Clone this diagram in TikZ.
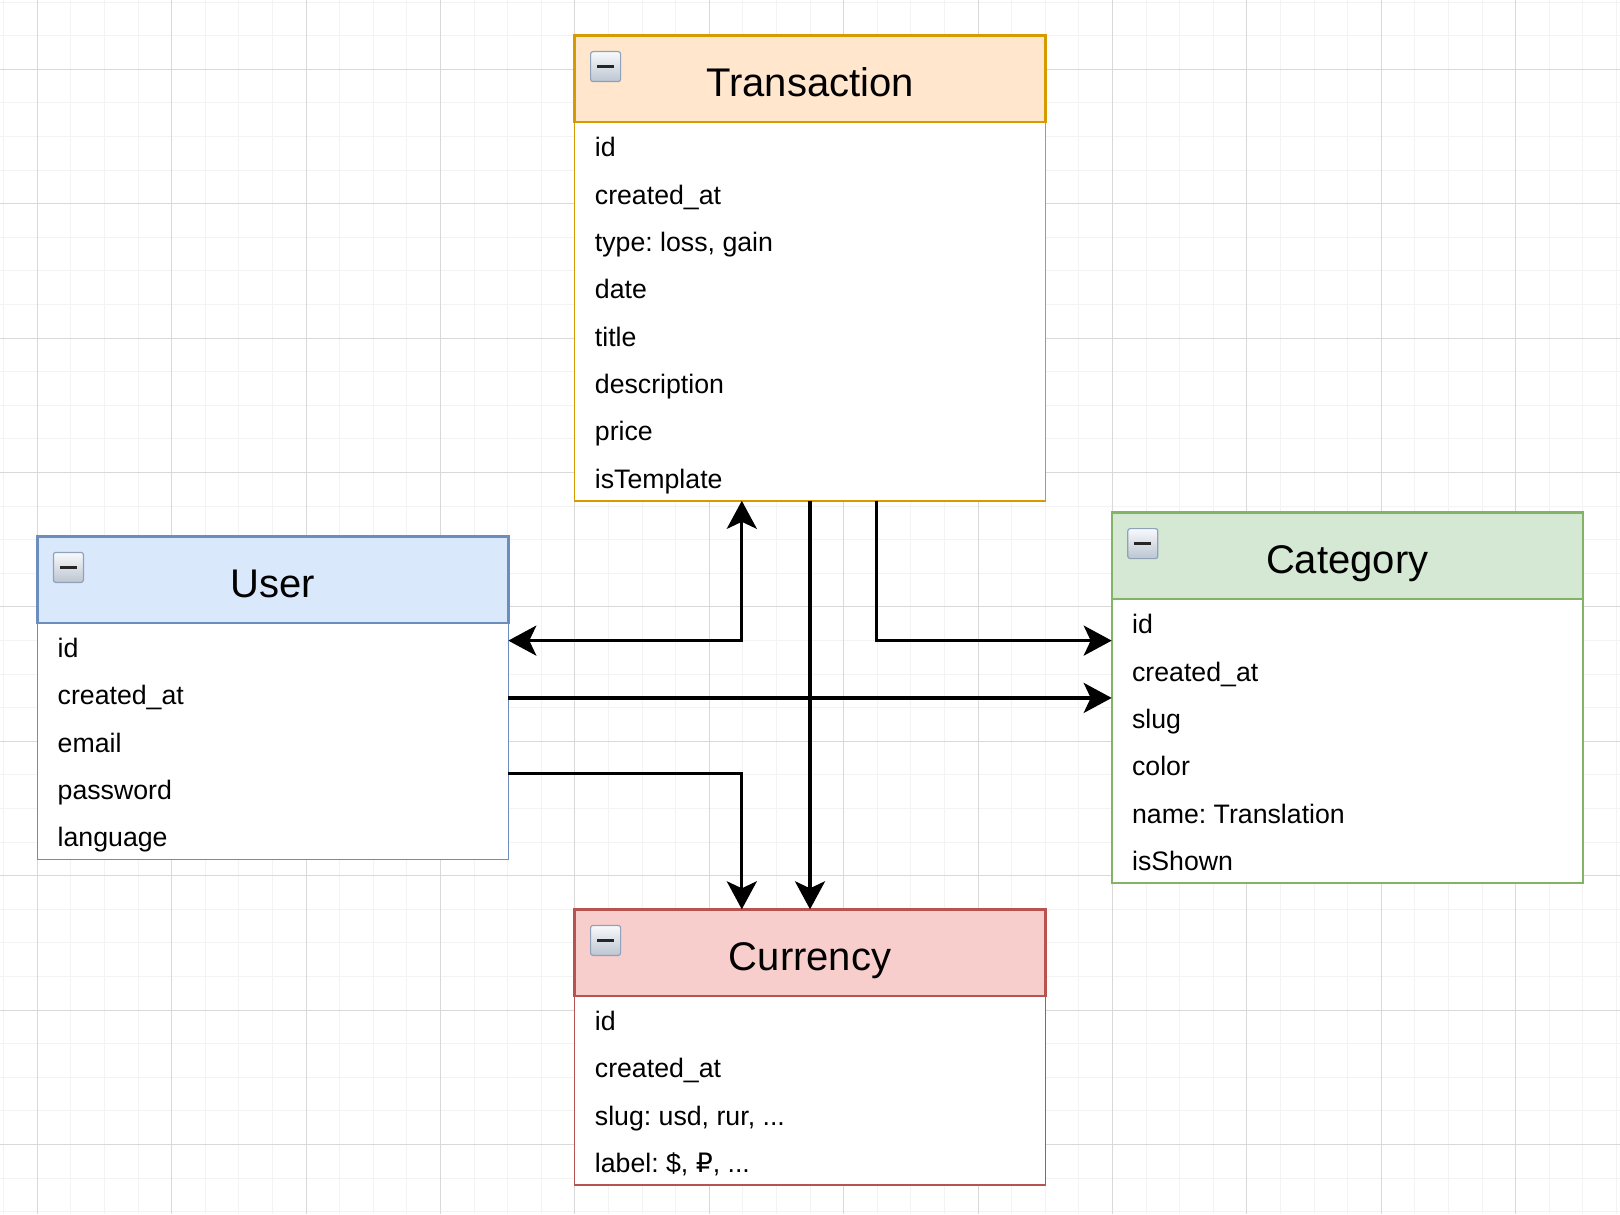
\documentclass[tikz,border=0pt]{standalone}
\usepackage{fontspec}
\setmainfont{Liberation Sans}
\newfontfamily\dejavu{DejaVu Sans}
\usetikzlibrary{calc,arrows.meta}
\newcommand\erdots{...}
\frenchspacing
\definecolor{trF}{HTML}{FFE6CC}\definecolor{trS}{HTML}{D79B00}
\definecolor{usF}{HTML}{DAE8FC}\definecolor{usS}{HTML}{6C8EBF}
\definecolor{caF}{HTML}{D5E8D4}\definecolor{caS}{HTML}{82B366}
\definecolor{cuF}{HTML}{F8CECC}\definecolor{cuS}{HTML}{B85450}
\definecolor{gridMinor}{HTML}{F3F3F3}\definecolor{gridMajor}{HTML}{D9D9D9}
\definecolor{iconB}{HTML}{8FA2BA}\definecolor{iconTop}{HTML}{F8FAFC}\definecolor{iconBot}{HTML}{BCC5D1}
\tikzset{
  tbl/.style={rectangle, fill=white, line width=0.8pt, minimum width=235.5pt, inner sep=0pt, outer sep=0pt},
  hdr/.style={rectangle, line width=1.2pt, minimum width=235.5pt, minimum height=43.25pt, inner sep=0pt, outer sep=0pt},
  ttl/.style={font=\fontsize{20pt}{24pt}\selectfont, inner sep=0pt},
  rowtxt/.style={font=\fontsize{13.35pt}{16pt}\selectfont, inner sep=0pt, anchor=base west},
  minusicon/.style={rectangle, minimum width=15pt, minimum height=15pt, inner sep=0pt,
    rounded corners=1.2pt, draw=iconB, line width=0.6pt, top color=iconTop, bottom color=iconBot,
    anchor=north west,
    path picture={\draw[line width=1.8pt, black!85] ([xshift=3.2pt]path picture bounding box.west) -- ([xshift=-3.2pt]path picture bounding box.east);}},
  conn/.style={line width=1.6pt, black},
  gminor/.style={gridMinor, line width=0.5pt},
  gmajor/.style={gridMajor, line width=0.5pt},
  ertip/.tip={Stealth[length=14pt,width=15pt,inset=3.5pt]},
}
\begin{document}
\begin{tikzpicture}[x=0.5pt,y=-0.5pt]
\useasboundingbox[fill=white] (0,0) rectangle (1620,1214);
% grid
\foreach \k in {0,...,48} \draw[gminor] ({3.7+\k*33.6},0) -- ({3.7+\k*33.6},1214);
\foreach \k in {0,...,36} \draw[gminor] (0,{2.1+\k*33.6}) -- (1620,{2.1+\k*33.6});
\foreach \k in {0,...,11} \draw[gmajor] ({37.3+\k*134.4},0) -- ({37.3+\k*134.4},1214);
\foreach \k in {0,...,8} \draw[gmajor] (0,{69.3+\k*134.4}) -- (1620,{69.3+\k*134.4});

% Transaction
\node[tbl, draw=trS, minimum height={(86.5+8*47.35)*0.5pt}, anchor=north west] (trans) at (574.5,35.5) {};
\node[hdr, fill=trF, draw=trS, anchor=north west] (transH) at (trans.north west) {};
\node[ttl, anchor=base] (transT) at ($(transH.center)+(0,17.8)$) {Transaction};
\node[minusicon] (transM) at ($(trans.north west)+(15.5,15.5)$) {};
\foreach \t [count=\i] in {id, created\_at, {type: loss, gain}, date, title, description, price, isTemplate}
  \node[rowtxt] (trans-r\i) at ($(transH.south west)+(20,{(\i-0.5)*47.35+11})$) {\t};

% User
\node[tbl, draw=usS, minimum height={(86.5+5*47.35)*0.5pt}, anchor=north west] (user) at (37.3,536.3) {};
\node[hdr, fill=usF, draw=usS, anchor=north west] (userH) at (user.north west) {};
\node[ttl, anchor=base] (userT) at ($(userH.center)+(0,17.8)$) {User};
\node[minusicon] (userM) at ($(user.north west)+(15.5,15.5)$) {};
\foreach \t [count=\i] in {id, created\_at, email, password, language}
  \node[rowtxt] (user-r\i) at ($(userH.south west)+(20,{(\i-0.5)*47.35+11})$) {\t};

% Category
\node[tbl, draw=caS, minimum height={(86.5+6*47.35)*0.5pt}, anchor=north west] (cat) at (1111.7,512.5) {};
\node[hdr, fill=caF, draw=caS, anchor=north west] (catH) at (cat.north west) {};
\node[ttl, anchor=base] (catT) at ($(catH.center)+(0,17.8)$) {Category};
\node[minusicon] (catM) at ($(cat.north west)+(15.5,15.5)$) {};
\foreach \t [count=\i] in {id, created\_at, slug, color, {name: Translation}, isShown}
  \node[rowtxt] (cat-r\i) at ($(catH.south west)+(20,{(\i-0.5)*47.35+11})$) {\t};

% Currency
\node[tbl, draw=cuS, minimum height={(86.5+4*47.35)*0.5pt}, anchor=north west] (cur) at (574.5,909.3) {};
\node[hdr, fill=cuF, draw=cuS, anchor=north west] (curH) at (cur.north west) {};
\node[ttl, anchor=base] (curT) at ($(curH.center)+(0,17.8)$) {Currency};
\node[minusicon] (curM) at ($(cur.north west)+(15.5,15.5)$) {};
\foreach \t [count=\i] in {id, created\_at, {slug: usd, rur, \erdots}, {label: \$, {\dejavu ₽}, \erdots}}
  \node[rowtxt] (cur-r\i) at ($(curH.south west)+(20,{(\i-0.5)*47.35+11})$) {\t};

% connector anchor points
\coordinate (uA) at ($(user.north east)!0.3227!(user.south east)$);
\coordinate (uC) at ($(user.north east)!0.735!(user.south east)$);
\coordinate (tA) at ($(trans.south west)!0.3552!(trans.south east)$);
\coordinate (tB) at ($(trans.south west)!0.6406!(trans.south east)$);

% connectors
\draw[conn, ertip-ertip] (uA) -| (tA);
\draw[conn, -ertip] (tB) |- (cat.west |- uA);
\draw[conn, -ertip] (user.east) -- (cat.west |- user.east);
\draw[conn, -ertip] (trans.south) -- (cur.north);
\draw[conn, -ertip] (uC) -| (tA |- cur.north);
\end{tikzpicture}
\end{document}
